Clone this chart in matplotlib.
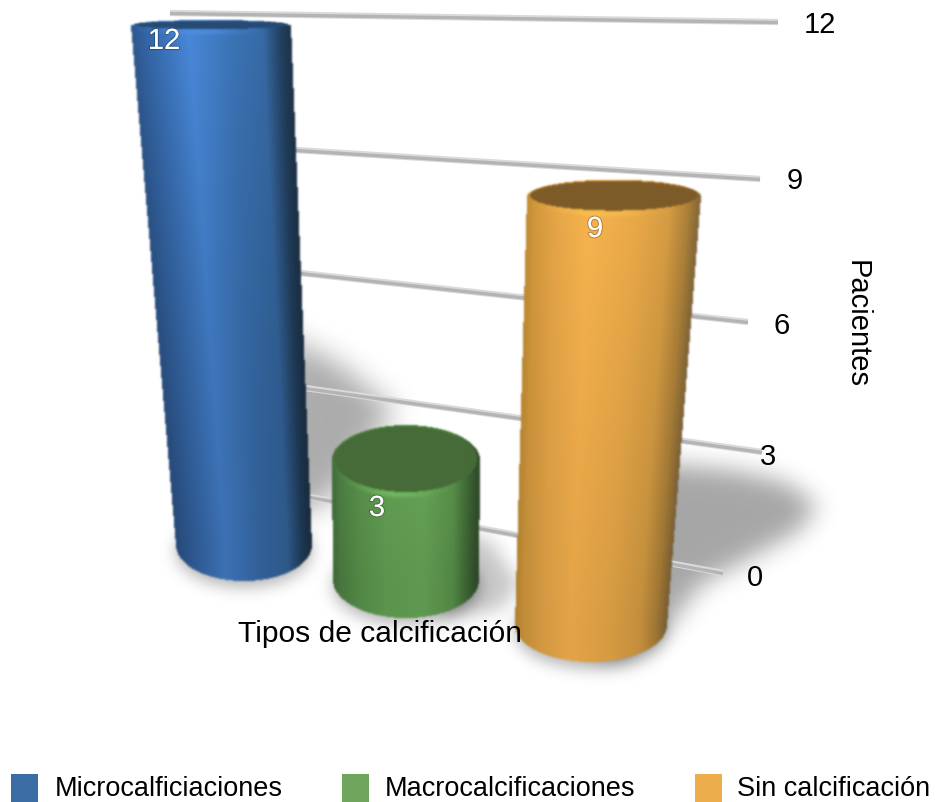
"""
Stolpediagram i falsk 3D: tre sylindrar med skugge, rutenett i perspektiv.
"""

import numpy as np
import matplotlib
matplotlib.use('Agg')
from matplotlib import pyplot as plt
from matplotlib.colors import to_rgb
from matplotlib.path import Path
from matplotlib.patches import Rectangle
import matplotlib.patheffects as pe

plt.rcParams['font.family'] = ['Liberation Sans', 'DejaVu Sans']
plt.rcParams['image.composite_image'] = False

# Data
kategoriar = ['Microcalficiaciones', 'Macrocalcificaciones', 'Sin calcificación']
verdiar = [12, 3, 9]
yTicks = [0, 3, 6, 9, 12]
xTittel = 'Tipos de calcificación'
yTittel = 'Pacientes'

# Perspektiv: botn (cx, cy, rx, ry), toppradius, toppforskyving, pikslar per eining
B, H = 938, 802
geo = [dict(cx=244, cy=545, rx=68, ry=36, tcx=211, trx=80, tRy=6, per=43.25, lys=.14),
       dict(cx=406, cy=580, rx=73, ry=38, tcx=406, trx=74, tRy=35, per=40.0, lys=.0),
       dict(cx=591, cy=625, rx=76, ry=37, tcx=614, trx=87, tRy=17, per=47.6, lys=.03)]

# Fargar: stopp over sylinderen frå venstre til høgre
tStopp = [0, .05, .18, .36, .62, .82, .93, 1]
sideFargar = [['#274a78', '#2a5286', '#32619e', '#3e76bc', '#33649e', '#2f5c90', '#1e3853', '#182a3e'],
              ['#3f6a36', '#4a7a40', '#558c49', '#5f9a50', '#639f53', '#558c47', '#3a5f31', '#2c4626'],
              ['#b5842f', '#c9913a', '#dc9f44', '#edab4a', '#e0a245', '#cc953f', '#a47a36', '#7a6035']]
toppFargar = ['#264a74', '#466b38', '#7d5b28']
kantFargar = ['#4f8fe0', '#74bc62', '#f7c04e']
legendeFargar = ['#3b6ca3', '#6fa45c', '#ecad4c']

# Rutenett: ende til venstre og høgre for kvar tick
gridV = [(310, 497), (305, 388), (300, 273), (295, 150), (170, 13)]
gridH = [(723, 573), (762, 452), (748, 322), (760, 179), (778, 22)]
tickPos = [(755, 578), (768, 457), (782, 326), (795, 181), (820, 25)]
legendeX = [11, 342, 695]
tekstX = [55, 385, 737]

X, Y = np.meshgrid(np.arange(B) + .5, np.arange(H) + .5)
punkt = np.column_stack([X.ravel(), Y.ravel()])


def maske(hjorne):
    return Path(hjorne).contains_points(punkt).reshape(H, B).astype(float)


def blur(a, s):
    fy = np.fft.fftfreq(H)[:, None]
    fx = np.fft.rfftfreq(B)[None, :]
    g = np.exp(-2 * (np.pi * s)**2 * (fx**2 + fy**2))
    return np.fft.irfft2(np.fft.rfft2(a) * g, s=(H, B))


def ellipse(cx, cy, rx, ry, a0=0, a1=2 * np.pi):
    t = np.linspace(a0, a1, 80)
    return np.column_stack([cx + rx * np.cos(t), cy + ry * np.sin(t)])


def legg_paa(rgb, alfa, zo=3):
    alfa = np.clip(alfa, 0, 1)
    alfa[alfa < 1e-3] = 0
    bilete = np.dstack([rgb, alfa])
    ax.imshow(bilete, extent=(0, B, H, 0), interpolation='nearest', aspect='auto', zorder=zo)


fig = plt.figure(figsize=(B / 100, H / 100), dpi=100)
ax = fig.add_axes([0, 0, 1, 1])

# Skuggar
skugge = np.zeros((H, B))
skugge += .35 * blur(maske([(650, 462), (733, 470), (785, 482), (818, 505), (800, 530),
                            (755, 555), (700, 585), (672, 622), (620, 660), (590, 650)]), 12)
skugge += .33 * blur(maske([(285, 335), (340, 365), (395, 410), (365, 450),
                            (330, 500), (280, 520)]), 14)
skugge += .22 * blur(maske([(450, 530), (490, 540), (520, 585), (500, 610), (440, 620)]), 9)
for g in geo:
    skugge += .30 * blur(maske(ellipse(g['cx'], g['cy'] + 6, g['rx'], g['ry'])), 8)
legg_paa(np.zeros((H, B, 3)), skugge, zo=1)

# Rutenett
for v, h in zip(gridV, gridH):
    ax.plot([v[0], h[0]], [v[1], h[1]], color='#dadada', lw=4.6, solid_capstyle='butt', zorder=2)
    ax.plot([v[0], h[0]], [v[1] + .5, h[1] + .5], color='#b4b4b4', lw=2.4, solid_capstyle='butt', zorder=2)

# Sylindrane
for i, verdi in enumerate(verdiar):
    g = geo[i]
    topp = g['cy'] - verdi * g['per']
    f = np.clip((Y - topp) / (g['cy'] - topp), 0, 1)
    cx = g['tcx'] + f * (g['cx'] - g['tcx'])
    rx = g['trx'] + f * (g['rx'] - g['trx'])
    t = (X - cx + rx) / (2 * rx)
    stopp = np.array([to_rgb(c) for c in sideFargar[i]])
    rgb = np.dstack([np.interp(t, tStopp, stopp[:, k]) for k in range(3)])

    # lysare oppe, litt mørkare nedover
    rgb = np.clip(rgb * (1.02 - .06 * f + g['lys'] * (1 - f)**2)[..., None], 0, 1)

    ramme = np.vstack([ellipse(g['cx'], g['cy'], g['rx'], g['ry'], 0, np.pi),
                       ellipse(g['tcx'], topp, g['trx'], g['tRy'], np.pi, 2 * np.pi)])
    legg_paa(rgb, blur(maske(ramme), 1.0))

    # lys kant framme på toppen
    kant = np.ones((H, B, 3)) * np.array(to_rgb(kantFargar[i]))
    r2 = ellipse(g['tcx'], topp + 2.5, g['trx'] - 1, g['tRy'])
    d = np.exp(-((X - g['tcx'] + .15 * g['trx']) / (.45 * g['trx']))**2)
    legg_paa(kant, .85 * d * blur(maske(r2), 1.5) * (Y > topp))

    # toppflata
    flate = np.ones((H, B, 3)) * np.array(to_rgb(toppFargar[i]))
    legg_paa(flate, blur(maske(ellipse(g['tcx'], topp - 1, g['trx'] - 3, g['tRy'] - 2)), 1.0))

ax.set_xlim(0, B)
ax.set_ylim(H, 0)
ax.axis('off')

# Tekst
fs = 21
for v, p in zip(yTicks, tickPos):
    ax.text(p[0], p[1], str(v), fontsize=fs, ha='center', va='center', color='black', zorder=5)

skugg = [pe.withStroke(linewidth=1.5, foreground='#00000040')]
for verdi, p in zip(verdiar, [(164, 41), (377, 508), (595, 229)]):
    ax.text(p[0], p[1], str(verdi), fontsize=fs, ha='center', va='center', color='white',
            zorder=5, path_effects=skugg)

ax.text(238, 634, xTittel, fontsize=21.6, ha='left', va='center', color='black', zorder=5)
ax.text(857, 324, yTittel, fontsize=fs, ha='center', va='center', rotation=270, color='black', zorder=5)

# Legende
for i, namn in enumerate(kategoriar):
    ax.add_patch(Rectangle((legendeX[i], 774), 27, 28, color=legendeFargar[i], lw=0, zorder=5))
    ax.text(tekstX[i], 789, namn, fontsize=fs - 1.5, ha='left', va='center', color='black', zorder=5)

fig.savefig('out.png', dpi=100)
